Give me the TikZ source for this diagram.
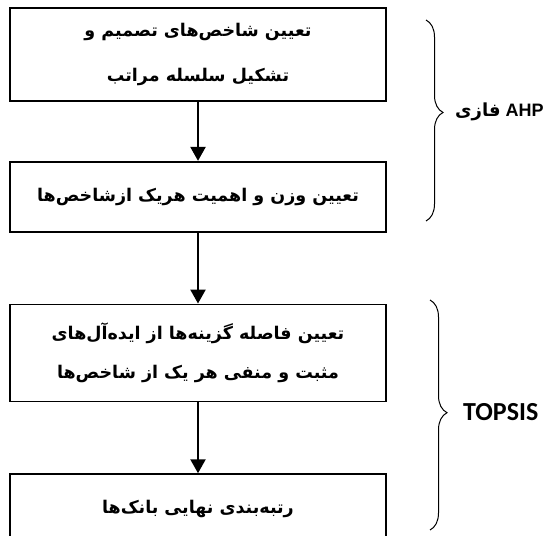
\documentclass[tikz,border=0pt]{standalone}
\usepackage{fontspec}
\setmainfont{Liberation Sans}
\newfontfamily\persianfont[Script=Arabic]{DejaVu Sans}
\newfontfamily\topsisfont{Carlito}
\TeXXeTstate=1
\usetikzlibrary{arrows.meta,positioning,decorations.pathreplacing}

\begin{document}
\begin{tikzpicture}[
    x=1pt, y=-1pt,
    node distance=71pt,
    box/.style={rectangle, draw, line width=1.7pt, minimum width=376pt, inner sep=0pt, align=center, font=\persianfont\bfseries\fontsize{17.5}{45}\selectfont},
    arrow/.style={-{Triangle[width=15pt,length=14pt]}, line width=2.4pt},
    phase/.style={decorate, decoration={brace, amplitude=17pt, aspect=#1}, line width=1pt},
    phasename/.style={anchor=west, inner sep=0pt, font=\bfseries\fontsize{18}{20}\selectfont}
]
\useasboundingbox (0,0) rectangle (548,535);

\node[box, minimum height=93pt] (criteria) at (198,54.5) {\beginR تعیین شاخص‌های تصمیم و\endR\\\beginR تشکیل سلسله مراتب\endR};
\node[box, minimum height=70pt, below=59pt of criteria] (weights) {\beginR تعیین وزن و اهمیت هریک ازشاخص‌ها\endR};
\node[box, minimum height=97pt, below=of weights, font=\persianfont\bfseries\fontsize{17.5}{39}\selectfont] (distance) {\beginR تعیین فاصله گزینه‌ها از ایده‌آل‌های\endR\\\beginR مثبت و منفی هر یک از شاخص‌ها\endR};
\node[box, minimum height=70pt, below=of distance] (ranking) {\beginR رتبه‌بندی نهایی بانک‌ها\endR};

\draw[arrow] (criteria) -- (weights);
\draw[arrow] (weights) -- (distance);
\draw[arrow] (distance) -- (ranking);

% phases
\coordinate (ahptop) at (426,20);
\coordinate (ahpbot) at (426,221);
\coordinate (topsistop) at (430,300);
\coordinate (topsisbot) at (430,530);
\draw[phase=0.46] (ahptop) -- (ahpbot);
\draw[phase=0.49] (topsistop) -- (topsisbot);

\node[phasename] (ahp) at (455,112) {\beginR\beginL AHP\endL{} {\persianfont فازی}\endR};
\node[phasename, font=\topsisfont\bfseries\fontsize{26}{28}\selectfont] (topsis) at (463,412) {TOPSIS};
\end{tikzpicture}
\end{document}
